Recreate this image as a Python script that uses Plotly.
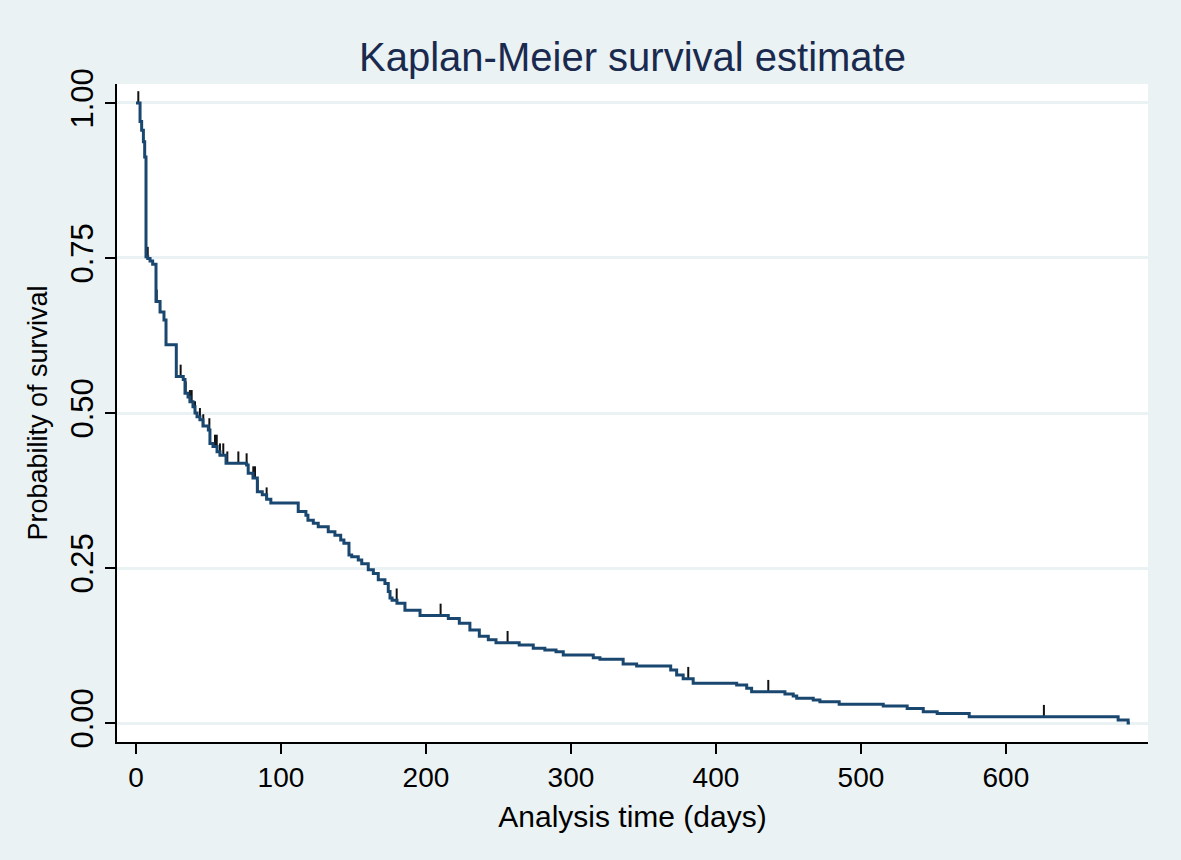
import numpy as np
import plotly.graph_objects as go

# step times (days) and survival after each step
times = [0, 2.8, 3.9, 5.1, 6.0, 6.9, 8.1, 9.7, 11.5, 13.8, 16.6, 19.3, 20.7, 27.8,
         32.6, 33.8, 35.9, 37.2, 39.3, 40.7, 42.1, 44.1, 46.2, 49.9, 51.0, 53.1,
         55.9, 57.9, 62.1, 76.3, 77.4, 80.7, 83.7, 87.1, 90.1, 93.0, 111.9, 117.2,
         118.6, 122.3, 125.7, 132.6, 137.2, 141.2, 143.4, 146.9, 148.8, 153.3,
         155.7, 160.2, 163.7, 167.1, 171.7, 174.0, 175.2, 176.6, 180.0, 185.5,
         195.9, 215.4, 223.0, 230.3, 236.8, 243.0, 248.3, 264.3, 274.0, 282.0,
         289.7, 294.7, 315.4, 320.0, 336.0, 345.3, 368.8, 372.9, 377.4, 384.3,
         414.3, 421.2, 424.6, 447.6, 453.3, 455.7, 467.1, 471.7, 485.0, 515.4,
         531.9, 543.0, 552.6, 574.7, 677.4, 684.3, 685.5]
surv = [1.0, 0.970, 0.956, 0.9375, 0.913, 0.752, 0.749, 0.745, 0.740, 0.680, 0.663,
        0.650, 0.610, 0.559, 0.554, 0.532, 0.526, 0.518, 0.510, 0.500, 0.494, 0.489,
        0.479, 0.4726, 0.451, 0.446, 0.4376, 0.432, 0.419, 0.416, 0.403, 0.395,
        0.373, 0.368, 0.361, 0.355, 0.341, 0.335, 0.327, 0.322, 0.3166, 0.3086,
        0.303, 0.295, 0.290, 0.271, 0.268, 0.263, 0.257, 0.247, 0.241, 0.231,
        0.225, 0.212, 0.2016, 0.198, 0.193, 0.182, 0.1735, 0.1685, 0.161, 0.150,
        0.140, 0.1345, 0.1295, 0.1258, 0.1204, 0.1177, 0.115, 0.1097, 0.1053,
        0.1027, 0.095, 0.0919, 0.0855, 0.0774, 0.0715, 0.064, 0.0613, 0.056,
        0.0505, 0.0468, 0.0435, 0.0398, 0.037, 0.0344, 0.0301, 0.0274, 0.0236,
        0.018, 0.0155, 0.0102, 0.0048, 0.0, 0.0]

# censored observations (days)
censored = [1.6, 6.2, 8.1, 14.3, 30.8, 34.3, 37.2, 38.4, 40.7, 44.1, 46.4, 50.6,
            54.5, 55.7, 57.9, 60.2, 63.0, 70.6, 76.3, 80.9, 82.1, 83.9, 90.1,
            179.8, 210.1, 256.3, 380.9, 436.1, 626.2]

xticks = [0, 100, 200, 300, 400, 500, 600]
yticks = [0, 0.25, 0.5, 0.75, 1.0]

NAVY = "#1a476f"
BG = "#eaf2f3"
FONT = "Liberation Sans, Arial, sans-serif"

# censor tick marks sit on the curve and point up
t_arr = np.array(times)
s_arr = np.array(surv)
cx, cy = [], []
for c in censored:
    s = s_arr[np.searchsorted(t_arr, c, side="right") - 1]
    cx += [c, c, None]
    cy += [s, s + 0.019, None]

fig = go.Figure()
fig.add_trace(go.Scatter(x=cx, y=cy, mode="lines",
                         line=dict(color="#111111", width=2),
                         hoverinfo="skip", showlegend=False))
fig.add_trace(go.Scatter(x=times, y=surv, mode="lines", line_shape="hv",
                         line=dict(color=NAVY, width=3), showlegend=False))

fig.update_layout(
    width=1181, height=860,
    paper_bgcolor=BG, plot_bgcolor="white",
    margin=dict(l=117, r=33, t=84, b=118),
    font=dict(family=FONT, color="black", size=26),
    title=dict(text="Kaplan-Meier survival estimate", x=0.5, xref="paper",
               y=1 - 57 / 860, yref="container", yanchor="middle",
               font=dict(size=40, color="#1a2a4f")),
)
fig.update_xaxes(range=[-13.1, 698], tickvals=xticks, showgrid=False,
                 zeroline=False, showline=True, linecolor="black", linewidth=1.5,
                 ticks="outside", ticklen=10, tickwidth=1.5, tickcolor="black",
                 tickfont=dict(size=28),
                 title=dict(text="Analysis time (days)", standoff=14,
                            font=dict(size=30)))
fig.update_yaxes(range=[-0.0306, 1.0306], tickvals=yticks, tickformat=".2f",
                 tickangle=-90, showgrid=True, gridcolor=BG, gridwidth=2.5,
                 zeroline=False, showline=True, linecolor="black", linewidth=1.5,
                 ticks="outside", ticklen=10, tickwidth=1.5, tickcolor="black",
                 tickfont=dict(size=31), ticklabelstandoff=0,
                 title=dict(text="Probability of survival", standoff=9,
                            font=dict(size=27)))

# drop the page's default body margin so the figure sits flush in the window
fig.write_html("out.html", config={"displayModeBar": False},
               post_script="document.body.style.margin='0px';")
